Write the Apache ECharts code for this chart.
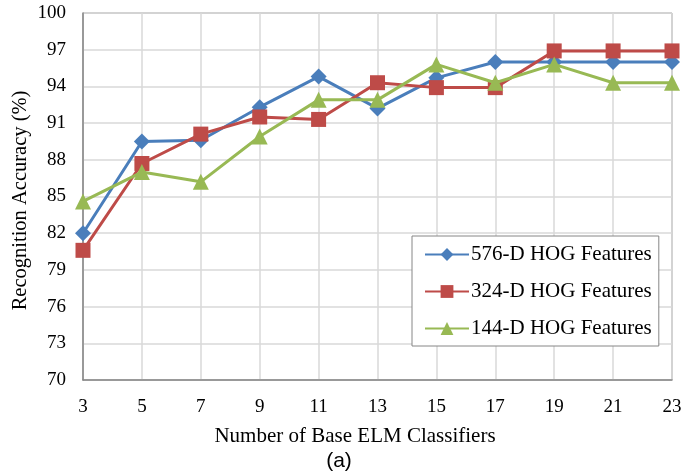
<!DOCTYPE html>
<html>
<head>
<meta charset="utf-8">
<script src="https://cdn.jsdelivr.net/npm/echarts@6/dist/echarts.min.js"></script>
<style>
  html, body { margin: 0; padding: 0; background: #fff; }
  #chart { width: 683px; height: 475px; }
</style>
</head>
<body>
<div id="chart"></div>
<script>
// x 轴：基分类器数目
var classifiers = ['3', '5', '7', '9', '11', '13', '15', '17', '19', '21', '23']
// 各特征维度的识别率 (%)
var hog576 = [82.0, 89.5, 89.6, 92.3, 94.8, 92.2, 94.7, 96.0, 96.0, 96.0, 96.0]
var hog324 = [80.6, 87.7, 90.1, 91.5, 91.3, 94.3, 93.9, 93.9, 96.9, 96.9, 96.9]
var hog144 = [84.6, 87.0, 86.2, 89.9, 92.9, 92.9, 95.8, 94.3, 95.8, 94.3, 94.3]
var seriesNames = ['576-D HOG Features', '324-D HOG Features', '144-D HOG Features']

var serif = '"Liberation Serif", "DejaVu Serif", serif'
var myChart = echarts.init(document.getElementById('chart'))

var option = {
  backgroundColor: '#fff',
  animation: false,
  title: [
    {
      text: 'Number of Base ELM Classifiers',
      left: 350,
      top: 421,
      textAlign: 'center',
      textStyle: { fontFamily: serif, fontSize: 21, fontWeight: 'normal', color: '#000' }
    },
    {
      text: '(a)',
      left: 334,
      top: 446,
      textAlign: 'center',
      textStyle: { fontFamily: '"Liberation Sans", Arial, sans-serif', fontSize: 21, fontWeight: 'normal', color: '#000' }
    }
  ],
  grid: {
    left: 83,
    top: 13,
    right: 11,
    bottom: 95,
    outerBoundsMode: 'none',
    show: true,
    borderColor: '#868686',
    borderWidth: 1
  },
  legend: {
    data: seriesNames,
    orient: 'vertical',
    left: 412,
    top: 236,
    backgroundColor: '#fff',
    borderColor: '#868686',
    borderWidth: 1,
    padding: [8, 7, 7, 12],
    itemGap: 16,
    itemWidth: 44,
    itemHeight: 16,
    textStyle: { fontFamily: serif, fontSize: 21, color: '#000', padding: [0, 0, 0, -3] }
  },
  xAxis: {
    type: 'category',
    data: classifiers,
    boundaryGap: false,
    axisLine: { lineStyle: { color: '#868686', width: 1.5 } },
    axisTick: { show: false },
    axisLabel: { color: '#000', fontFamily: serif, fontSize: 19, margin: 18 },
    splitLine: { show: true, lineStyle: { color: '#d9d9d9', width: 1.5 } }
  },
  yAxis: {
    type: 'value',
    min: 70,
    max: 100,
    interval: 3,
    name: 'Recognition Accuracy (%)',
    nameLocation: 'middle',
    nameGap: 52,
    nameMoveOverlap: false,
    nameTextStyle: { fontFamily: serif, fontSize: 20.5, color: '#000', padding: [0, 0, 0, -8] },
    axisLine: { show: true, lineStyle: { color: '#868686', width: 1.5 } },
    axisTick: { show: false },
    axisLabel: { color: '#000', fontFamily: serif, fontSize: 19, margin: 17 },
    splitLine: { show: true, lineStyle: { color: '#d9d9d9', width: 1.5 } }
  },
  series: [
    {
      name: seriesNames[0],
      type: 'line',
      data: hog576,
      symbol: 'diamond',
      symbolSize: 16,
      lineStyle: { width: 3, color: '#4a7ebb' },
      itemStyle: { color: '#4a7ebb' },
      z: 3
    },
    {
      name: seriesNames[1],
      type: 'line',
      data: hog324,
      symbol: 'rect',
      symbolSize: 15,
      lineStyle: { width: 3, color: '#be4b48' },
      itemStyle: { color: '#be4b48' },
      z: 4
    },
    {
      name: seriesNames[2],
      type: 'line',
      data: hog144,
      symbol: 'triangle',
      symbolSize: 16,
      lineStyle: { width: 3, color: '#98b954' },
      itemStyle: { color: '#98b954' },
      z: 5
    }
  ]
}

myChart.setOption(option)
window.addEventListener('resize', function () { myChart.resize() })
</script>
</body>
</html>
